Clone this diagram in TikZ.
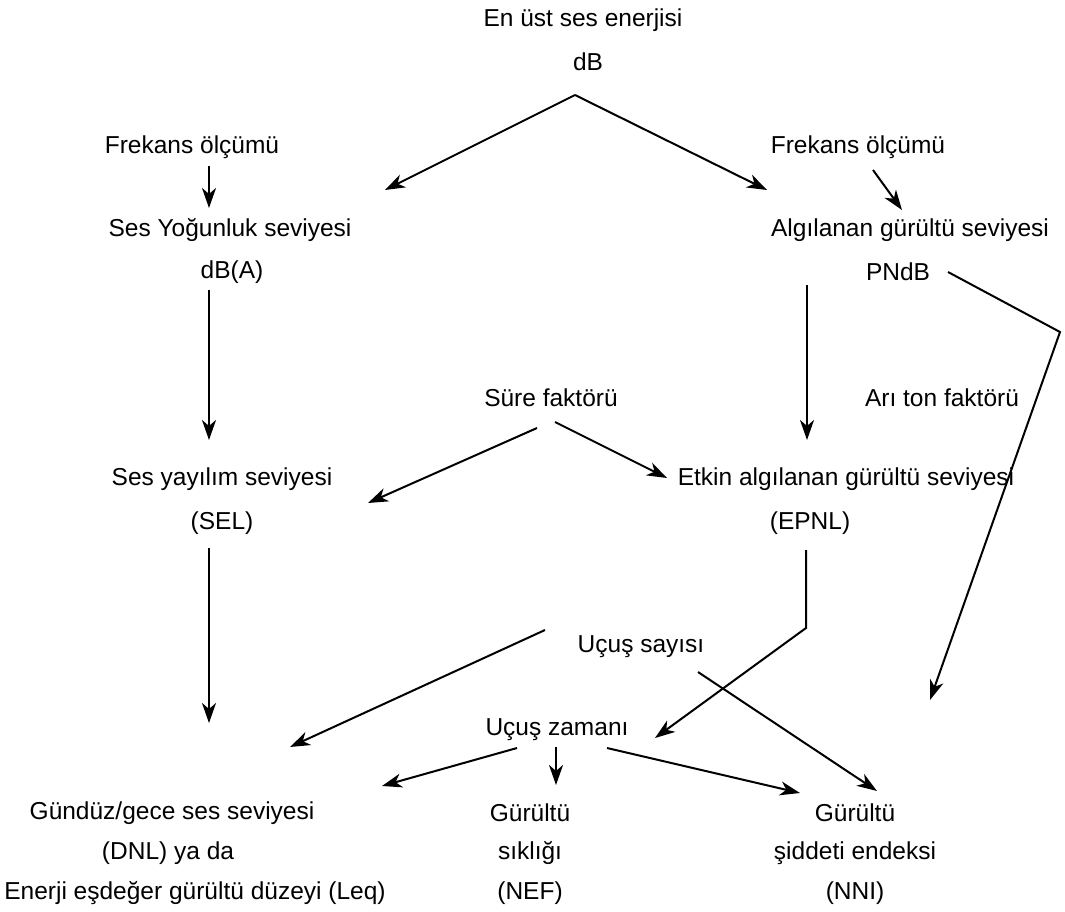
\documentclass[tikz,border=0pt]{standalone}
\usepackage{fontspec}
\setmainfont{Liberation Sans}
\usetikzlibrary{arrows.meta}

\begin{document}
\begin{tikzpicture}[x=1pt, y=-1pt,
	lbl/.style={inner sep=0pt, font=\fontsize{24.5}{29}\selectfont},
	ln/.style={line width=2pt, line join=miter},
	arr/.style={ln, -{Stealth[length=20pt, width=14pt, inset=6pt]}}]
	\useasboundingbox (0,0) rectangle (1065,912);
	
	% 1. 上部：总能量 dB
	\node[lbl] (top) at (583,20) {En üst ses enerjisi};
	\node[lbl] (topdb) at (588,62) {dB};
	\node[lbl] (frL) at (192,147) {Frekans ölçümü};
	\node[lbl] (frR) at (858,147) {Frekans ölçümü};
	
	% 2. 两个分支
	\node[lbl] (sil) at (230,230) {Ses Yoğunluk seviyesi};
	\node[lbl] (dba) at (232,272) {dB(A)};
	\node[lbl] (alg) at (910,230) {Algılanan gürültü seviyesi};
	\node[lbl] (pndb) at (898,272) {PNdB};
	\node[lbl] (sure) at (551,398) {Süre faktörü};
	\node[lbl] (ari) at (942,398) {Arı ton faktörü};
	\node[lbl] (sel) at (222,479) {Ses yayılım seviyesi};
	\node[lbl] (sel2) at (222,523) {(SEL)};
	\node[lbl] (epnl) at (846,479) {Etkin algılanan gürültü seviyesi};
	\node[lbl] (epnl2) at (810,523) {(EPNL)};
	\node[lbl] (ucs) at (641,647) {Uçuş sayısı};
	\node[lbl] (ucz) at (557,730) {Uçuş zamanı};
	
	% 3. 底部三个结果
	\node[lbl] (dnl) at (172,813) {Gündüz/gece ses seviyesi};
	\node[lbl] (dnl2) at (168,853) {(DNL) ya da};
	\node[lbl] (dnl3) at (195,893) {Enerji eşdeğer gürültü düzeyi (Leq)};
	\node[lbl] (nef) at (530,813) {Gürültü};
	\node[lbl] (nef2) at (530,853) {sıklığı};
	\node[lbl] (nef3) at (530,893) {(NEF)};
	\node[lbl] (nni) at (855,813) {Gürültü};
	\node[lbl] (nni2) at (855,853) {şiddeti endeksi};
	\node[lbl] (nni3) at (855,893) {(NNI)};
	
	% 4. 箭头的端点
	\coordinate (apex) at (575,95);
	\coordinate (vL) at (385,190);
	\coordinate (vR) at (767,190);
	\coordinate (fL1) at (209,166);  \coordinate (fL2) at (209,208);
	\coordinate (fR1) at (873,170);  \coordinate (fR2) at (902,210);
	\coordinate (aL1) at (209,290);  \coordinate (aL2) at (209,440);
	\coordinate (aR1) at (807,285);  \coordinate (aR2) at (807,440);
	\coordinate (pb) at (948,272);   \coordinate (pc) at (1060,332);
	\coordinate (pd) at (930,700);
	\coordinate (s0) at (537,428);   \coordinate (s1) at (368,503);
	\coordinate (s2) at (555,422);   \coordinate (s3) at (667,478);
	\coordinate (e1) at (209,548);   \coordinate (e2) at (209,723);
	\coordinate (q1) at (806,550);   \coordinate (q2) at (806,628);
	\coordinate (q3) at (655,738);
	\coordinate (u1) at (545,630);   \coordinate (u2) at (290,747);
	\coordinate (u3) at (698,672);   \coordinate (u4) at (877,791);
	\coordinate (z1) at (517,748);   \coordinate (z2) at (382,786);
	\coordinate (z3) at (556,747);   \coordinate (z4) at (556,785);
	\coordinate (z5) at (607,748);   \coordinate (z6) at (800,793);
	
	% 5. 箭头
	\draw[arr] (apex) -- (vL);
	\draw[arr] (apex) -- (vR);
	\draw[arr] (fL1) -- (fL2);
	\draw[arr] (fR1) -- (fR2);
	\draw[arr] (aL1) -- (aL2);
	\draw[arr] (aR1) -- (aR2);
	\draw[arr] (pb) -- (pc) -- (pd);
	\draw[arr] (s0) -- (s1);
	\draw[arr] (s2) -- (s3);
	\draw[arr] (e1) -- (e2);
	\draw[arr] (q1) -- (q2) -- (q3);
	\draw[arr] (u1) -- (u2);
	\draw[arr] (u3) -- (u4);
	\draw[arr] (z1) -- (z2);
	\draw[arr] (z3) -- (z4);
	\draw[arr] (z5) -- (z6);
\end{tikzpicture}
\end{document}
